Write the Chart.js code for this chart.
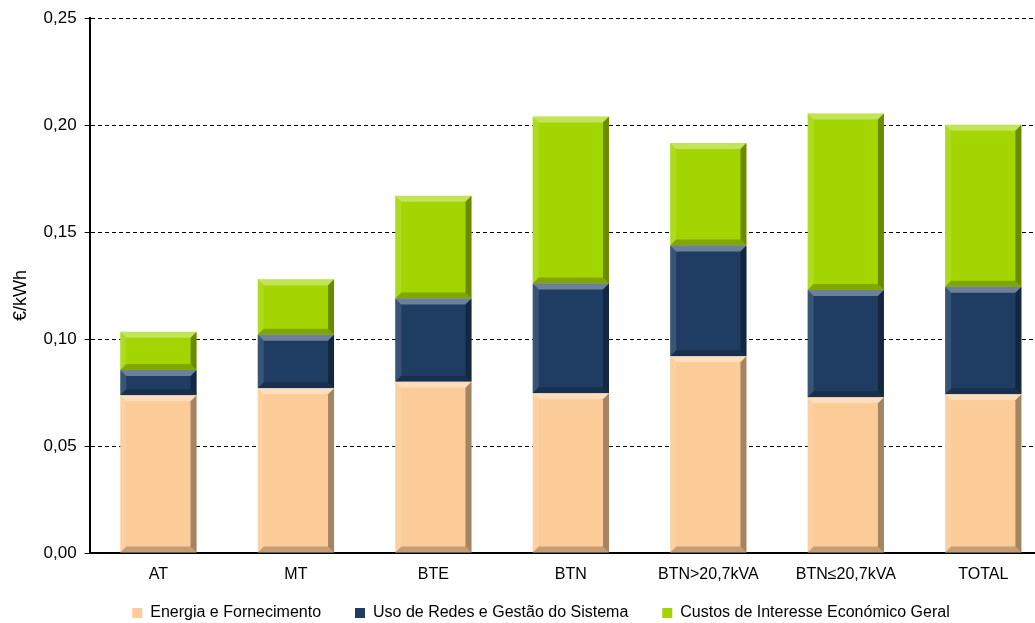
<!DOCTYPE html>
<html>
<head>
<meta charset="utf-8">
<script src="https://cdn.jsdelivr.net/npm/chart.js@4/dist/chart.umd.min.js"></script>
<style>
  html, body { margin: 0; padding: 0; background: #fff; overflow: hidden; }
  #wrap { width: 1052px; height: 623px; position: relative; }
</style>
</head>
<body>
<div id="wrap"><canvas id="myChart"></canvas></div>
<script>
const categories = ['AT', 'MT', 'BTE', 'BTN', 'BTN>20,7kVA', 'BTN≤20,7kVA', 'TOTAL'];
const energia = [0.0738, 0.0770, 0.0800, 0.0747, 0.0920, 0.0728, 0.0742];
const redes = [0.0117, 0.0250, 0.0390, 0.0513, 0.0518, 0.0502, 0.0503];
const cieg = [0.0179, 0.0260, 0.0480, 0.0780, 0.0479, 0.0824, 0.0757];
const yTicks = [0, 0.05, 0.10, 0.15, 0.20, 0.25];

const font = 'Liberation Sans, Arial, sans-serif';

// bevel look for the bars
const bevel = {
  id: 'bevel',
  afterLayout(chart) {
    // legend sits a bit right of the canvas centre in the original
    chart.legend.left += 12;
    chart.legend.right += 12;
    // let the category labels hang below the squeezed x axis box
    chart.scales.x.bottom += 30;
  },
  afterDatasetsDraw(chart) {
    const ctx = chart.ctx;
    chart.data.datasets.forEach((ds, i) => {
      chart.getDatasetMeta(i).data.forEach(bar => {
        const l = bar.x - bar.width / 2, r = bar.x + bar.width / 2;
        const t = Math.min(bar.y, bar.base), b = Math.max(bar.y, bar.base);
        const e = 6;
        ctx.save();
        ctx.fillStyle = 'rgba(255,255,255,0.35)';
        ctx.beginPath();
        ctx.moveTo(l, t); ctx.lineTo(r, t); ctx.lineTo(r - e, t + e); ctx.lineTo(l + e, t + e);
        ctx.closePath(); ctx.fill();
        ctx.fillStyle = 'rgba(255,255,255,0.12)';
        ctx.beginPath();
        ctx.moveTo(l, t); ctx.lineTo(l + e, t + e); ctx.lineTo(l + e, b - e); ctx.lineTo(l, b);
        ctx.closePath(); ctx.fill();
        ctx.fillStyle = 'rgba(0,0,0,0.35)';
        ctx.beginPath();
        ctx.moveTo(r, t); ctx.lineTo(r, b); ctx.lineTo(r - e, b - e); ctx.lineTo(r - e, t + e);
        ctx.closePath(); ctx.fill();
        ctx.fillStyle = 'rgba(0,0,0,0.22)';
        ctx.beginPath();
        ctx.moveTo(l, b); ctx.lineTo(r, b); ctx.lineTo(r - e, b - e); ctx.lineTo(l + e, b - e);
        ctx.closePath(); ctx.fill();
        ctx.restore();
      });
    });
  }
};

const data = {
  labels: categories,
  datasets: [
    { label: 'Energia e Fornecimento', data: energia, backgroundColor: '#FBCB98' },
    { label: 'Uso de Redes e Gestão do Sistema', data: redes, backgroundColor: '#1F3D63' },
    { label: 'Custos de Interesse Económico Geral', data: cieg, backgroundColor: '#A3D600' }
  ]
};

const config = {
  type: 'bar',
  data: data,
  plugins: [bevel],
  options: {
    responsive: true,
    maintainAspectRatio: false,
    animation: false,
    layout: { padding: { top: 17, left: 6, right: 0, bottom: -8 } },
    datasets: { bar: { barPercentage: 0.555, categoryPercentage: 1.0 } },
    plugins: {
      legend: {
        position: 'bottom',
        labels: { boxWidth: 10, boxHeight: 10, color: '#000', font: { family: font, size: 16 }, padding: 34 }
      },
      tooltip: { enabled: false }
    },
    scales: {
      x: {
        stacked: true,
        grid: { display: false, drawTicks: false },
        border: { color: '#000', width: 2 },
        ticks: { color: '#000', font: { family: font, size: 16 }, padding: 12 },
        afterFit: s => { s.height = 18; }
      },
      y: {
        stacked: true,
        min: 0,
        max: 0.25,
        afterBuildTicks: axis => { axis.ticks = yTicks.map(v => ({ value: v })); },
        grid: { color: '#000', tickLength: 5, tickColor: '#000', tickBorderDash: [] },
        border: { color: '#000', width: 2, dash: [4, 3] },
        ticks: {
          color: '#000',
          font: { family: font, size: 17 },
          padding: 8,
          callback: v => v.toFixed(2).replace('.', ',')
        },
        title: { display: true, text: '€/kWh    ', color: '#000', font: { family: font, size: 18 }, padding: 4 }
      }
    }
  }
};

new Chart(document.getElementById('myChart'), config);
</script>
</body>
</html>
